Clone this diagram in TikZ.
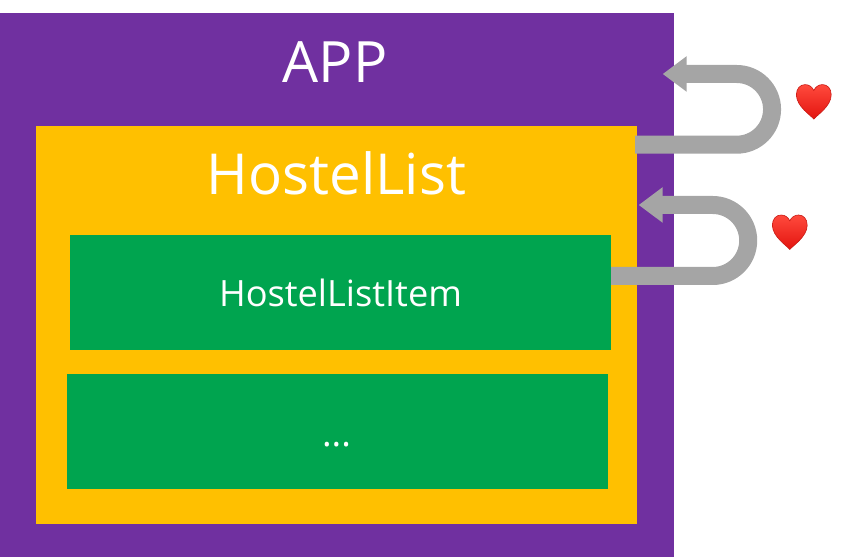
\documentclass[tikz,border=0pt]{standalone}
\usepackage{fontspec}
\setmainfont{Open Sans}
\usetikzlibrary{arrows.meta}
\definecolor{appc}{HTML}{7030A0}
\definecolor{listc}{HTML}{FFC000}
\definecolor{itemc}{HTML}{00A44F}
\definecolor{arrc}{HTML}{A5A5A5}
\definecolor{hearttop}{HTML}{FF4A3D}
\definecolor{heartbot}{HTML}{E3140F}
\definecolor{heartedge}{HTML}{C81A14}
\tikzset{
  panel/.style={draw=none,minimum width=#1,inner sep=0pt,outer sep=0pt,anchor=north west},
  label/.style={text=white,inner sep=0pt,anchor=base},
  uarrow/.style={draw=arrc,line width=18pt,line join=round,-{Triangle[length=24pt,width=34pt,fill=arrc]}},
}
\newcommand{\lovemark}[2]{%
  \begin{scope}[shift={(#1,#2)}]
    \path[top color=hearttop,bottom color=heartbot,draw=heartedge,line width=.6pt]
      (0,-17.3) .. controls (-3,-13.5) and (-17.4,-4.5) .. (-17.4,7)
      .. controls (-17.4,13.5) and (-13.5,17.2) .. (-8.7,17.2)
      .. controls (-4.7,17.2) and (-1.5,14.8) .. (0,11.3)
      .. controls (1.5,14.8) and (4.7,17.2) .. (8.7,17.2)
      .. controls (13.5,17.2) and (17.4,13.5) .. (17.4,7)
      .. controls (17.4,-4.5) and (3,-13.5) .. (0,-17.3) -- cycle;
  \end{scope}}
\begin{document}
\begin{tikzpicture}[x=1pt,y=1pt]
\useasboundingbox (0,0) rectangle (856,557);
\node[panel=674pt,minimum height=544pt,fill=appc] (app) at (0,544) {};
\node[panel=601pt,minimum height=398pt,fill=listc] (list) at (36,431) {};
\node[panel=541pt,minimum height=115pt,fill=itemc] (item) at (70,322) {};
\node[panel=541pt,minimum height=115pt,fill=itemc] (more) at (67,183) {};
\node[label,font=\fontsize{57}{66}\selectfont] (apptext) at (335,474.7) {APP};
\node[label,font=\fontsize{56.5}{66}\selectfont] (listtext) at (336.5,362) {HostelList};
\node[label,font=\fontsize{36.2}{42}\selectfont] (itemtext) at (340.5,250.3) {HostelListItem};
\node[label,font=\fontsize{36.2}{42}\selectfont] (moretext) at (336.5,111) {...};
\coordinate (h1) at (662.7,483);
\coordinate (h2) at (638.7,352);
\coordinate (t1) at (635,412.3);
\draw[uarrow] (t1) -- (736.7,412.3) arc[start angle=-90,end angle=90,radius=35.35] -- (h1);
\draw[uarrow] (item.east |- 0,281) -- (712.7,281) arc[start angle=-90,end angle=90,radius=35.5] -- (h2);
\lovemark{813.8}{455.2}
\lovemark{789.8}{324.8}
\end{tikzpicture}
\end{document}
